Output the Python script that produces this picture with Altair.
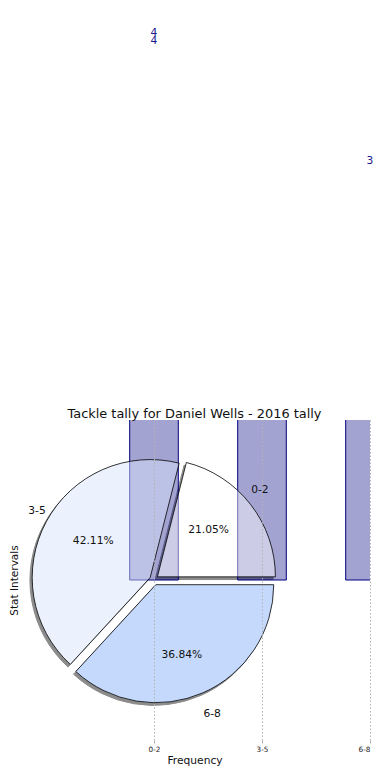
import json
import altair as alt
import pandas as pd

# ---- data ----
categories = ["0-2", "3-5", "6-8"]
bar_values = [4, 4, 3]
pie_values = [4, 8, 7]          # 21.05 %, 42.11 %, 36.84 %
label_cats = ["0-2", "0-2", "6-8"]
label_values = [4, 4, 3]
pie_colors = ["#ffffff", "#ebf2fe", "#c5d9fc"]

title = "Tackle tally for Daniel Wells - 2016 tally"
x_title = "Frequency"
y_title = "Stat Intervals"

FONT = "DejaVu Sans"
cats_js = json.dumps(categories)

bars_df = pd.DataFrame({"cat": categories, "v": bar_values})
pie_df = pd.DataFrame({"cat": categories, "v": pie_values})
lab_df = pd.DataFrame({"cat": label_cats, "v": label_values})

xscale = alt.Scale(domain=[-1.25, 2], nice=False, zero=False)
yscale = alt.Scale(domain=[-1.25, 1.25], nice=False, zero=False)
cscale = alt.Scale(domain=categories, range=pie_colors)

x_axis = alt.Axis(
    values=[0, 1, 2], labelExpr=f"{cats_js}[datum.value]",
    grid=True, gridDash=[1.5, 2], gridColor="#b3b3b3", gridWidth=1,
    domain=False, ticks=True, tickSize=3, tickColor="#b3b3b3",
    labelFont=FONT, labelFontSize=7.3, labelColor="#222222", labelPadding=2,
    title=x_title, titleFont=FONT, titleFontSize=10.7, titleFontWeight="normal",
    titleColor="#111111", titlePadding=3, zindex=1,
)
y_axis = alt.Axis(
    labels=False, ticks=False, domain=False, grid=False,
    title=y_title, titleFont=FONT, titleFontSize=10.5, titleFontWeight="normal",
    titleColor="#111111", titlePadding=0,
)

# ---- bars ----
bars = alt.Chart(bars_df).transform_calculate(
    idx=f"indexof({cats_js}, datum.cat)"
).transform_calculate(
    xl="datum.idx - 0.225", xr="datum.idx + 0.225"
).mark_bar(clip=True, fill="navy", fillOpacity=0.36, stroke="navy", strokeWidth=1).encode(
    x=alt.X("xl:Q", scale=xscale, axis=x_axis),
    x2="xr:Q",
    y=alt.Y("v:Q", scale=yscale, axis=y_axis),
    y2=alt.datum(0),
)

# ---- pie ----
E = 0.04
pie_base = alt.Chart(pie_df).transform_calculate(
    idx=f"indexof({cats_js}, datum.cat)"
).transform_joinaggregate(
    total="sum(v)"
).transform_window(
    cum="sum(v)", sort=[alt.SortField("idx", order="ascending")], frame=[None, 0]
).transform_calculate(
    a0="2*PI*(datum.cum - datum.v)/datum.total",
    a1="2*PI*datum.cum/datum.total",
).transform_calculate(
    mid="(datum.a0 + datum.a1)/2",
    t0="2.5*PI - datum.a0",
    t1="2.5*PI - datum.a1",
).transform_calculate(
    ex=f"{E}*cos(datum.mid)", ey=f"{E}*sin(datum.mid)",
    sx=f"{E}*cos(datum.mid) - 0.021", sy=f"{E}*sin(datum.mid) - 0.021",
    lx=f"{1.1 + E}*cos(datum.mid)", ly=f"{1.1 + E}*sin(datum.mid)",
    px=f"{0.6 + E}*cos(datum.mid)", py=f"{0.6 + E}*sin(datum.mid)",
    pct="format(100*datum.v/datum.total, '.2f') + '%'",
)

theta = alt.Theta("t0:Q", scale=None, stack=None)
theta2 = alt.Theta2("t1:Q")
R = 118

shadow = pie_base.mark_arc(radius=R, fill="#8c8c8c", stroke="#8c8c8c", strokeWidth=1).encode(
    x=alt.X("sx:Q", scale=xscale, axis=x_axis),
    y=alt.Y("sy:Q", scale=yscale, axis=y_axis),
    theta=theta, theta2=theta2,
)
pie_solid = pie_base.mark_arc(radius=R, strokeWidth=0).encode(
    x=alt.X("ex:Q", scale=xscale, axis=x_axis),
    y=alt.Y("ey:Q", scale=yscale, axis=y_axis),
    theta=theta, theta2=theta2,
    fill=alt.Fill("cat:N", scale=cscale, legend=None),
)
pie_top = pie_base.mark_arc(radius=R, fillOpacity=0.45, stroke="black", strokeWidth=0.8).encode(
    x=alt.X("ex:Q", scale=xscale, axis=x_axis),
    y=alt.Y("ey:Q", scale=yscale, axis=y_axis),
    theta=theta, theta2=theta2,
    fill=alt.Fill("cat:N", scale=cscale, legend=None),
)

txt = dict(font=FONT, fontSize=10.7, color="#111111", baseline="middle")
lab_right = pie_base.transform_filter("cos(datum.mid) > 0").mark_text(align="left", **txt).encode(
    x=alt.X("lx:Q", scale=xscale, axis=x_axis),
    y=alt.Y("ly:Q", scale=yscale, axis=y_axis),
    text="cat:N",
)
lab_left = pie_base.transform_filter("cos(datum.mid) <= 0").mark_text(align="right", **txt).encode(
    x=alt.X("lx:Q", scale=xscale, axis=x_axis),
    y=alt.Y("ly:Q", scale=yscale, axis=y_axis),
    text="cat:N",
)
pct = pie_base.mark_text(align="center", **txt).encode(
    x=alt.X("px:Q", scale=xscale, axis=x_axis),
    y=alt.Y("py:Q", scale=yscale, axis=y_axis),
    text="pct:N",
)

# ---- value labels ----
vals = alt.Chart(lab_df).transform_window(
    rank="row_number()", groupby=["cat"]
).transform_calculate(
    idx=f"indexof({cats_js}, datum.cat)",
    ty="datum.v + 0.25 - 0.06*(datum.rank - 1)",
).mark_text(align="center", baseline="alphabetic", font=FONT, fontSize=10.7, color="#1a1a8a").encode(
    x=alt.X("idx:Q", scale=xscale, axis=x_axis),
    y=alt.Y("ty:Q", scale=yscale, axis=y_axis),
    text="v:Q",
)

chart = alt.layer(shadow, pie_solid, bars, pie_top, lab_right, lab_left, pct, vals).properties(
    width=351, height=320,
    title=alt.TitleParams(title, font=FONT, fontSize=12.9, fontWeight="normal", color="#111111",
                          anchor="middle", frame="group", offset=1, dy=395),
    autosize=alt.AutoSizeParams(type="none"),
    padding={"left": 11, "top": 412, "right": 12, "bottom": 26},
    background="white",
).configure_view(stroke=None)

chart.save("out.html", embed_options={"renderer": "svg", "actions": False})
